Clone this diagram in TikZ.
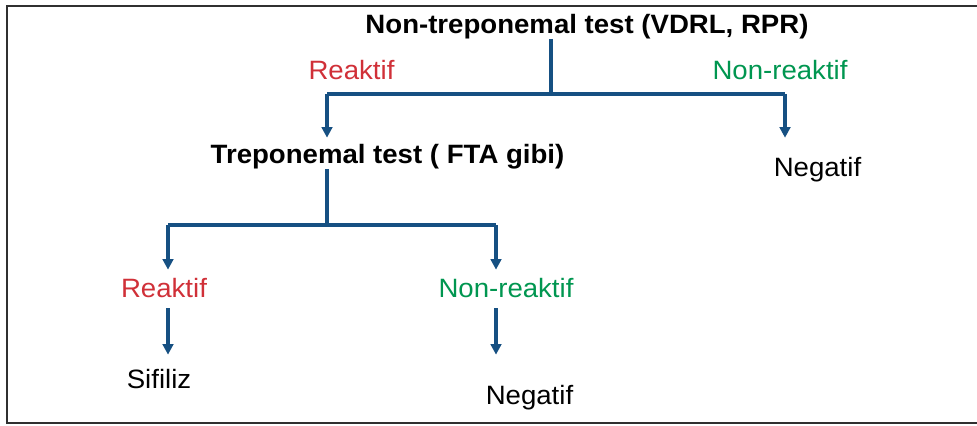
\documentclass[tikz,border=0pt]{standalone}
\usepackage{fontspec}
\setmainfont[FakeStretch=1.04]{Liberation Sans}
\usetikzlibrary{arrows.meta,positioning}

\definecolor{linkblue}{RGB}{22,80,130}
\definecolor{reakred}{RGB}{208,48,56}
\definecolor{nonreakgreen}{RGB}{0,150,80}
\definecolor{framegray}{RGB}{48,48,48}

\tikzset{
  lbl/.style={anchor=base,inner sep=0pt,text height=14.5pt,text depth=4.2pt,
    font=\fontsize{19.9}{24}\selectfont},
  testlbl/.style={lbl,font=\fontsize{19.9}{24}\selectfont\bfseries},
  reakbox/.style={lbl,text=reakred},
  nonreakbox/.style={lbl,text=nonreakgreen},
  trunk/.style={draw=linkblue,line width=3.4pt},
  drop/.style={draw=linkblue,line width=2.3pt,-{Triangle[width=8pt,length=8pt]}},
}

\begin{document}
\begin{tikzpicture}[x=0.75pt,y=-0.75pt]
\useasboundingbox (0,0) rectangle (977,425);
\draw[framegray,line width=2.2pt] (990,6) -- (7,6) -- (7,423) -- (990,423);

% first test
\node[testlbl] (vdrl) at (587,33) {Non-treponemal test (VDRL, RPR)};
\node[reakbox] (reak1) at (351.5,79) {Reaktif};
\node[nonreakbox] (nonreak1) at (780,79) {Non-reaktif};
\node[testlbl] (fta) at (387.5,163) {Treponemal test ( FTA gibi)};
\node[lbl] (neg1) at (817.5,176) {Negatif};

\coordinate (j1) at (551,94);
\coordinate (b1l) at (327,94);
\coordinate (b1r) at (785,94);
\draw[trunk] (vdrl.south -| j1) -- (j1);
\draw[trunk] (b1l) -- (b1r);
\draw[drop,shorten >=4.3pt] (b1l) -- (fta.north -| b1l);
\draw[drop,shorten >=14pt] (b1r) -- (neg1.north -| b1r);

% second test
\node[reakbox] (reak2) at (164,297) {Reaktif};
\node[nonreakbox] (nonreak2) at (506,297) {Non-reaktif};
\node[lbl] (sifiliz) at (159,388) {Sifiliz};
\node[lbl] (neg2) at (529.5,404) {Negatif};

\coordinate (j2) at (327,225);
\coordinate (b2l) at (168,225);
\coordinate (b2r) at (496,225);
\draw[trunk] (fta.south -| j2) -- (j2);
\draw[trunk] (b2l) -- (b2r);
\draw[drop,shorten >=5.8pt] (b2l) -- (reak2.north -| b2l);
\draw[drop,shorten >=5.8pt] (b2r) -- (nonreak2.north -| b2r);
\draw[drop,shorten <=4pt,shorten >=10.3pt] (reak2.south -| b2l) -- (sifiliz.north -| b2l);
\draw[drop,shorten <=4pt,shorten >=22.3pt] (nonreak2.south -| b2r) -- (neg2.north -| b2r);
\end{tikzpicture}
\end{document}
